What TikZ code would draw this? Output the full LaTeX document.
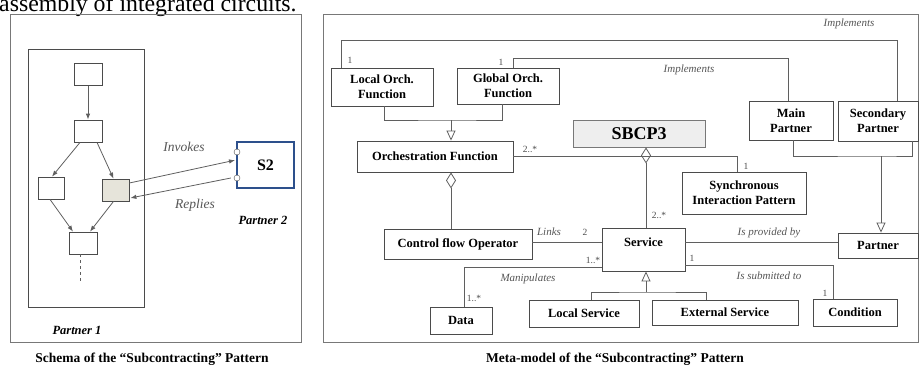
\documentclass[tikz,border=0pt]{standalone}
\usepackage{fontspec}
\setmainfont{Liberation Serif}
\usetikzlibrary{arrows.meta}
\definecolor{framegray}{RGB}{120,120,120}
\definecolor{boxgray}{RGB}{75,75,75}
\definecolor{linegray}{RGB}{95,95,95}
\definecolor{labgray}{RGB}{85,85,85}
\definecolor{actfill}{RGB}{230,228,218}
\definecolor{sbcpfill}{RGB}{238,238,238}
\definecolor{srvblue}{RGB}{45,80,140}
\tikzset{
  frame/.style={draw=framegray, line width=0.9pt, inner sep=0pt},
  actbox/.style={draw=boxgray, line width=0.8pt, fill=white, minimum width=28pt, minimum height=22pt, inner sep=0pt},
  umlbox/.style={draw=boxgray, line width=0.9pt, fill=white, align=center, inner sep=0pt,
    font=\bfseries\fontsize{12.5}{15}\selectfont},
  port/.style={circle, draw=boxgray, fill=white, minimum size=6pt, inner sep=0pt},
  flow/.style={draw=linegray, line width=0.8pt, -{Latex[length=6pt,width=4.5pt]}},
  assoc/.style={draw=linegray, line width=0.8pt},
  genl/.style={assoc, -{Triangle[open, length=10pt, width=9pt]}},
  aggr/.style={assoc, {Diamond[open, length=16pt, width=10pt]}-},
  mult/.style={font=\fontsize{9.5}{10}\selectfont, text=boxgray, inner sep=0pt},
  role/.style={font=\itshape\fontsize{11}{12}\selectfont, text=labgray, inner sep=0pt},
  msg/.style={font=\itshape\fontsize{13.5}{15}\selectfont, text=labgray, inner sep=0pt},
  caption/.style={font=\bfseries\fontsize{13.5}{15}\selectfont, inner sep=0pt, anchor=base}
}
\begin{document}
\begin{tikzpicture}[x=1pt, y=-1pt]
\useasboundingbox (0,0) rectangle (919,367);
% text line cut off above the figure
\node[font=\fontsize{23.8}{26}\selectfont, inner sep=0pt, anchor=base west] (cut) at (-1,11) {assembly of integrated circuits.};

% Schema of the pattern
\node[frame, minimum width=291pt, minimum height=328pt] (schema) at (155.5,178) {};
\node[frame, draw=boxgray, minimum width=116pt, minimum height=258pt] (p1) at (86,178) {};
\node[actbox] (a1) at (88,74.5) {};
\node[actbox] (a2) at (88,131) {};
\node[actbox, minimum width=26pt] (a3) at (51,188) {};
\node[actbox, minimum width=27pt, fill=actfill] (a4) at (115.5,190) {};
\node[actbox] (a5) at (83,243) {};
\node[draw=srvblue, line width=1.4pt, minimum width=57pt, minimum height=46pt, inner sep=0pt,
  font=\bfseries\fontsize{16}{18}\selectfont] (s2) at (265.5,165) {S2};
\node[port] (pin) at (237,152) {};
\node[port] (pout) at (237,178) {};
\coordinate (tail) at (80,283);

\draw[flow] (a1.south) -- (a2.north);
\draw[flow] ([xshift=-8pt]a2.south) -- ([xshift=1pt]a3.north);
\draw[flow] ([xshift=9pt]a2.south) -- ([xshift=-2pt]a4.north);
\draw[flow] ([xshift=-1pt]a3.south) -- ([xshift=-10pt]a5.north);
\draw[flow] ([xshift=-2pt]a4.south) -- ([xshift=7pt]a5.north);
\draw[assoc, dashed] ([xshift=-3pt]a5.south) -- (tail);
\draw[flow] ([yshift=7pt]a4.east) -- ([xshift=-2pt,yshift=-5pt]pin.south);
\draw[flow] ([xshift=-3pt]pout.west) -- ([xshift=1pt,yshift=-8pt]a4.east);

\node[msg] (inv) at (184,147) {Invokes};
\node[msg] (rep) at (195,205) {Replies};
\node[msg, font=\bfseries\itshape\fontsize{12.5}{14}\selectfont, text=black] (p2) at (263,220) {Partner 2};
\node[msg, font=\bfseries\itshape\fontsize{12.5}{14}\selectfont, text=black] (p1lab) at (77,330) {Partner 1};
\node[caption] (cap1) at (152,362) {Schema of the ``Subcontracting'' Pattern};

% Meta-model of the pattern
\node[frame, minimum width=595pt, minimum height=328pt] (meta) at (620.5,178) {};
\node[umlbox, minimum width=102pt, minimum height=38pt] (lof) at (382,87) {Local Orch.\\Function};
\node[umlbox, minimum width=102pt, minimum height=36pt] (gof) at (508,86) {Global Orch.\\Function};
\node[umlbox, minimum width=156pt, minimum height=31pt] (orch) at (435,156.5) {Orchestration Function};
\node[umlbox, fill=sbcpfill, draw=framegray, minimum width=132pt, minimum height=27pt,
  font=\bfseries\fontsize{18}{20}\selectfont] (sbcp) at (639,133.5) {SBCP3};
\node[umlbox, minimum width=84pt, minimum height=39pt] (mainp) at (791,120.5) {Main\\Partner};
\node[umlbox, minimum width=80pt, minimum height=40pt] (secp) at (878,121) {Secondary\\Partner};
\node[umlbox, minimum width=124pt, minimum height=42pt] (sync) at (744,193) {Synchronous\\Interaction Pattern};
\node[umlbox, minimum width=148pt, minimum height=30pt] (cfo) at (458,244) {Control flow Operator};
\node[umlbox, minimum width=83pt, minimum height=43pt] (serv) at (643.5,249.5) {Service\\\mbox{}};
\node[umlbox, minimum width=80pt, minimum height=25pt] (partner) at (878,245.5) {Partner};
\node[umlbox, minimum width=62pt, minimum height=27pt] (data) at (461,320.5) {Data};
\node[umlbox, minimum width=110pt, minimum height=27pt] (locs) at (584,313.5) {Local Service};
\node[umlbox, minimum width=146pt, minimum height=25pt] (exts) at (725,312.5) {External Service};
\node[umlbox, minimum width=84pt, minimum height=27pt] (cond) at (855,312.5) {Condition};
\coordinate (genA) at (451,120);
\coordinate (genB) at (881,156);
\coordinate (genC) at (646,292);

\draw[assoc] ([xshift=-41pt]lof.north) -- ++(0,-27) -| ([xshift=19pt]secp.north);
\draw[assoc] ([xshift=5pt]gof.north) -- ++(0,-9) -| ([xshift=-3pt]mainp.north);
\draw[assoc] ([xshift=2pt]lof.south) |- (genA) -| ([xshift=-6pt]gof.south);
\draw[genl] (genA) -- (genA |- orch.north);
\draw[aggr] (orch.south -| genA) -- (cfo.north -| genA);
\draw[assoc] (orch.east) -| ([xshift=-7pt]sync.north);
\draw[aggr] ([xshift=7pt]sbcp.south) -- ([xshift=2.5pt]serv.north);
\draw[assoc] ([xshift=2pt]mainp.south) |- (genB) -| ([xshift=34pt]secp.south);
\draw[genl] (genB) -- (genB |- partner.north);
\draw[assoc] ([yshift=2pt]cfo.east) -- ([yshift=2pt]cfo.east -| serv.west);
\draw[assoc] ([yshift=-17.5pt]serv.west) -| ([xshift=3pt]data.north);
\draw[assoc] ([yshift=7.5pt]serv.east) -- ([yshift=3.5pt]partner.west);
\draw[assoc] ([yshift=-15.5pt]serv.east) -| ([xshift=-22pt]cond.north);
\draw[genl] (genC) -- (genC |- serv.south);
\draw[assoc] ([xshift=7pt]locs.north) |- (genC) -| ([xshift=-19pt]exts.north);

\node[role] (imp1) at (849,24) {Implements};
\node[role] (imp2) at (689,70) {Implements};
\node[role] (links) at (549,232) {Links};
\node[role] (manip) at (528,279) {Manipulates};
\node[role] (prov) at (769,233) {Is provided by};
\node[role] (subm) at (769,276) {Is submitted to};
\node[mult] (m1) at (350,60) {1};
\node[mult] (m2) at (501,62) {1};
\node[mult] (m3) at (530,149) {2..*};
\node[mult] (m4) at (746,166) {1};
\node[mult] (m5) at (659,215) {2..*};
\node[mult] (m6) at (585,232) {2};
\node[mult] (m7) at (593,260) {1..*};
\node[mult] (m8) at (474,298) {1..*};
\node[mult] (m9) at (692,258) {1};
\node[mult] (m10) at (825,293) {1};
\node[caption] (cap2) at (615,362) {Meta-model of the ``Subcontracting'' Pattern};
\end{tikzpicture}
\end{document}
